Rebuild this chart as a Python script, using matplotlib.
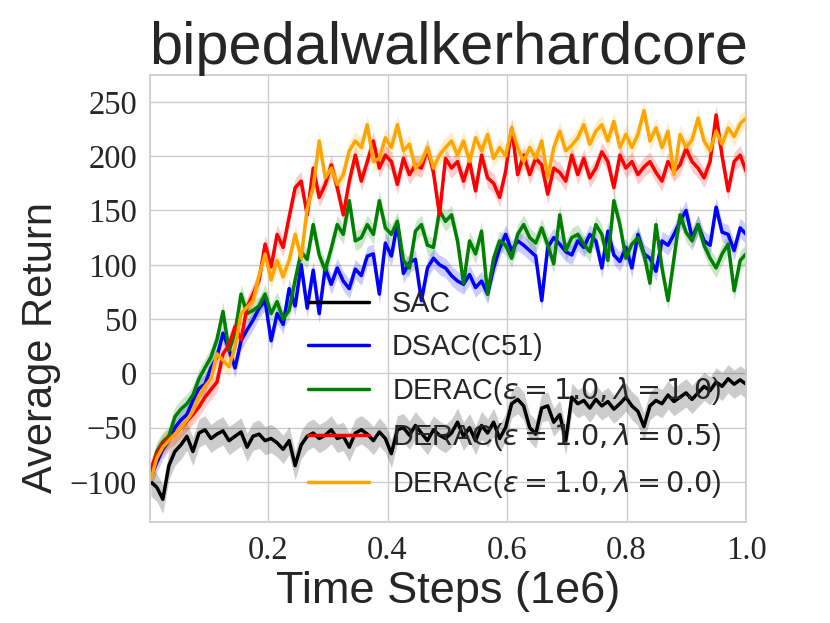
import numpy as np
import matplotlib
matplotlib.use("Agg")
import matplotlib.pyplot as plt
import seaborn as sns

sns.set_theme(style="whitegrid")
plt.rcParams['font.family'] = ['Liberation Sans', 'DejaVu Sans']
plt.rcParams['mathtext.fontset'] = 'dejavusans'

N = 100
time_steps = np.linspace(0.004, 1.0, N)

labels = ["SAC", "DSAC(C51)",
          r"DERAC($\epsilon=1.0, \lambda=1.0$)",
          r"DERAC($\epsilon=1.0, \lambda=0.5$)",
          r"DERAC($\epsilon=1.0, \lambda=0.0$)"]
colors = ["black", "blue", "green", "red", "orange"]

sac = [-100, -105, -116, -85, -72, -66, -58, -72, -55, -52,
       -60, -56, -53, -62, -58, -54, -68, -58, -56, -62,
       -60, -64, -70, -62, -85, -66, -58, -55, -60, -57,
       -52, -60, -58, -68, -55, -52, -56, -62, -54, -60,
       -74, -52, -50, -57, -48, -55, -62, -52, -57, -60,
       -55, -45, -58, -50, -62, -48, -55, -45, -60, -50,
       -28, -24, -30, -50, -56, -32, -30, -45, -38, -62,
       -22, -28, -25, -32, -24, -30, -26, -33, -28, -22,
       -30, -35, -49, -30, -25, -28, -20, -26, -22, -18,
       -24, -18, -12, -16, -8, -12, -5, -10, -6, -10]

dsac = [-96, -82, -70, -62, -50, -43, -38, -25, -14, -10,
        5, 15, 37, 22, 5, 30, 40, 49, 60, 67,
        30, 55, 45, 78, 62, 100, 60, 95, 55, 97,
        82, 97, 85, 78, 96, 90, 108, 110, 73, 120,
        108, 138, 92, 102, 105, 67, 97, 106, 100, 97,
        90, 85, 82, 91, 79, 85, 73, 97, 115, 128,
        113, 122, 118, 113, 108, 67, 116, 125, 119, 112,
        109, 122, 116, 128, 122, 97, 131, 109, 103, 116,
        97, 128, 110, 106, 94, 122, 118, 128, 140, 150,
        125, 137, 122, 118, 153, 130, 128, 113, 134, 128]

derac_10 = [-92, -72, -63, -58, -40, -33, -28, -20, -5, 5,
            15, 31, 57, 21, 37, 73, 55, 58, 62, 73,
            55, 66, 50, 58, 86, 112, 105, 137, 109, 95,
            115, 137, 128, 159, 122, 125, 137, 128, 159, 134,
            128, 140, 104, 97, 131, 137, 118, 116, 150, 140,
            146, 122, 83, 122, 110, 131, 73, 106, 122, 118,
            106, 128, 137, 125, 120, 134, 118, 101, 146, 113,
            125, 128, 119, 112, 137, 128, 104, 159, 137, 106,
            119, 125, 110, 83, 137, 97, 67, 106, 146, 130,
            122, 137, 118, 106, 97, 110, 119, 76, 104, 110]

derac_05 = [-88, -74, -65, -60, -56, -50, -44, -38, -31, -22,
            -15, -8, 18, 26, 43, 31, 61, 73, 86, 119,
            98, 128, 116, 144, 171, 177, 146, 189, 162, 174,
            192, 171, 146, 177, 201, 177, 195, 214, 189, 201,
            195, 174, 198, 183, 192, 189, 207, 185, 146, 198,
            189, 195, 177, 195, 168, 201, 180, 175, 162, 186,
            226, 183, 201, 183, 198, 192, 165, 189, 185, 177,
            201, 183, 198, 180, 189, 204, 195, 171, 201, 189,
            195, 183, 190, 195, 185, 177, 195, 186, 192, 207,
            195, 189, 180, 195, 238, 200, 168, 195, 201, 186]

derac_00 = [-98, -78, -68, -62, -56, -50, -43, -35, -21, -12,
            -5, 18, 12, 6, 24, 55, 61, 67, 90, 110,
            86, 104, 89, 104, 128, 106, 152, 171, 214, 180,
            189, 174, 183, 205, 214, 208, 229, 195, 198, 217,
            208, 229, 205, 211, 189, 195, 208, 189, 201, 208,
            214, 201, 214, 195, 217, 205, 220, 198, 208, 200,
            226, 208, 195, 208, 198, 214, 180, 208, 223, 205,
            210, 217, 229, 211, 223, 229, 214, 232, 208, 220,
            208, 220, 242, 214, 226, 208, 223, 183, 220, 208,
            215, 235, 214, 205, 223, 211, 226, 218, 230, 235]

spreads = [13, 9, 9, 9, 9]

series = [sac, dsac, derac_10, derac_05, derac_00]

fig = plt.figure(figsize=(8.3, 6.23), dpi=100)
ax = fig.add_axes([0.181, 0.162, 0.718, 0.718])

for vals, lab, col, sp in zip(series, labels, colors, spreads):
    v = np.asarray(vals, dtype=float)
    ax.fill_between(time_steps, v - sp, v + sp, color=col, alpha=0.2, linewidth=0)
    ax.plot(time_steps, v, color=col, lw=2.5, label=lab)

ax.set_xlim(0.003, 1.0)
ax.set_ylim(-137, 275)
ax.set_xticks([0.2, 0.4, 0.6, 0.8, 1.0])
ax.set_yticks([-100, -50, 0, 50, 100, 150, 200, 250])
for t in ax.get_xticklabels() + ax.get_yticklabels():
    t.set_fontfamily('Liberation Serif')
    t.set_fontsize(23.5)
    t.set_color('#262626')

ax.set_title("bipedalwalkerhardcore", fontsize=42.8, pad=8, color='#262626')
ax.set_xlabel("Time Steps (1e6)", fontsize=32.5, color='#262626')
ax.set_ylabel("Average Return", fontsize=30, color='#262626')
ax.yaxis.set_label_coords(-0.150, 0.39)

leg = ax.legend(loc='upper left', bbox_to_anchor=(0.222, 0.576), frameon=False,
                fontsize=20.7, handlelength=2.1)
for t in leg.get_texts():
    t.set_color('#262626')

fig.savefig("out.png", dpi=100)
